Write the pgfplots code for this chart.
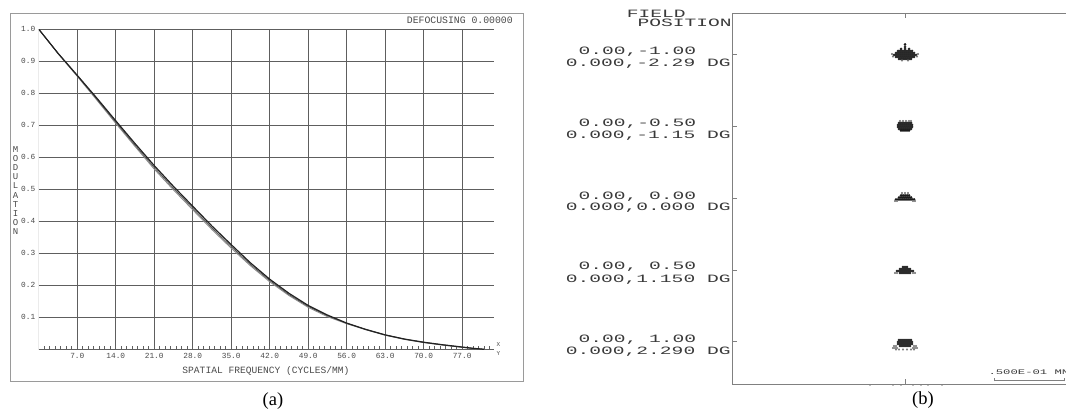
\documentclass[border=0pt]{standalone}
\usepackage{fontspec}
\setmainfont{Liberation Serif}
\setmonofont{Liberation Mono}
\newfontfamily\widefont[FakeStretch=1.75]{Liberation Mono}
\usepackage{pgfplots}
\pgfplotsset{compat=1.18}
\definecolor{txt}{HTML}{4A4A4A}
\definecolor{gridc}{HTML}{5E5E5E}
\definecolor{framec}{HTML}{9A9A9A}
\definecolor{frameb}{HTML}{808080}
\definecolor{curvea}{HTML}{222222}
\definecolor{curveb}{HTML}{8C8C8C}
\definecolor{curvec}{HTML}{555555}
\definecolor{spotd}{HTML}{1A1A1A}
\definecolor{spotg}{HTML}{7A7A7A}
\definecolor{btxt}{HTML}{3A3A3A}
\begin{document}
\begin{tikzpicture}
\useasboundingbox (0pt,0pt) rectangle (1066pt,411pt);
% ---------- panel (a) frame ----------
\draw[framec, line width=0.9pt] (10pt,29.3pt) rectangle (523.3pt,397.7pt);
\begin{axis}[
  at={(38.8pt,61.7pt)}, anchor=south west, scale only axis,
  width=455.2pt, height=320pt,
  xmin=0, xmax=82.8, ymin=0, ymax=1,
  axis line style={draw=none},
  xtick={7,14,21,28,35,42,49,56,63,70,77},
  xticklabels={7.0,14.0,21.0,28.0,35.0,42.0,49.0,56.0,63.0,70.0,77.0},
  ytick={0.1,0.2,0.3,0.4,0.5,0.6,0.7,0.8,0.9,1.0},
  yticklabels={0.1,0.2,0.3,0.4,0.5,0.6,0.7,0.8,0.9,1.0},
  minor xtick={1,2,3,4,5,6,8,9,10,11,12,13,15,16,17,18,19,20,22,23,24,25,26,27,29,30,31,32,33,34,36,37,38,39,40,41,43,44,45,46,47,48,50,51,52,53,54,55,57,58,59,60,61,62,64,65,66,67,68,69,71,72,73,74,75,76,78,79,80,81,82},
  grid=major, major grid style={draw=gridc, line width=0.85pt},
  tick align=inside, xtick pos=lower, ytick pos=left,
  major tick length=3pt, minor tick length=3pt,
  xtick style={draw=gridc, line width=0.6pt},
  minor tick style={draw=gridc, line width=0.6pt},
  ytick style={draw=none},
  xticklabel style={font=\fontsize{7.8}{8}\ttfamily, text=txt, yshift=-0.5pt},
  yticklabel style={font=\fontsize{7.8}{8}\ttfamily, text=txt},
]
\draw[gridc, line width=0.9pt] (axis cs:0,1) -- (axis cs:0,0) -- (axis cs:82.8,0);
\addplot[curveb, line width=0.9pt] coordinates {
(0,1.0) (3.5,0.924) (7,0.853) (10.5,0.780) (14,0.706) (17.5,0.634) (21,0.563) (24.5,0.498) (28,0.436) (31.5,0.374) (35,0.316) (38.5,0.261) (42,0.211) (45.5,0.168) (49,0.131) (52.5,0.102) (56,0.080) (59.5,0.061) (63,0.044) (66.5,0.031) (70,0.021) (73.5,0.013) (77,0.006) (79,0.002) (81,0.0)};
\addplot[curvec, line width=0.8pt] coordinates {
(0,1.0) (3.5,0.925) (7,0.855) (10.5,0.783) (14,0.710) (17.5,0.638) (21,0.568) (24.5,0.503) (28,0.441) (31.5,0.379) (35,0.321) (38.5,0.265) (42,0.215) (45.5,0.171) (49,0.134) (52.5,0.105) (56,0.081) (59.5,0.062) (63,0.045) (66.5,0.032) (70,0.022) (73.5,0.014) (77,0.007) (79,0.003) (81,0.0)};
\addplot[curvea, line width=1.2pt] coordinates {
(0,1.0) (3.5,0.925) (7,0.856) (10.5,0.786) (14,0.714) (17.5,0.643) (21,0.574) (24.5,0.509) (28,0.447) (31.5,0.385) (35,0.327) (38.5,0.270) (42,0.219) (45.5,0.175) (49,0.137) (52.5,0.107) (56,0.082) (59.5,0.062) (63,0.045) (66.5,0.032) (70,0.022) (73.5,0.014) (77,0.007) (79,0.003) (81,0.0)};
\end{axis}
\node[font=\fontsize{9.6}{10}\ttfamily, text=txt] at (266pt,40.3pt) {SPATIAL FREQUENCY (CYCLES/MM)};
\node[font=\fontsize{9.8}{10}\ttfamily, text=txt, anchor=west, inner sep=0pt] at (406.7pt,391pt) {DEFOCUSING 0.00000};
\node[font=\fontsize{9}{9.1}\ttfamily, text=txt, align=center, inner sep=0pt] at (15.7pt,220.5pt) {M\\O\\D\\U\\L\\A\\T\\I\\O\\N};
\node[font=\fontsize{6}{6}\ttfamily, text=txt, inner sep=0pt] at (498.3pt,66pt) {X};
\node[font=\fontsize{6}{6}\ttfamily, text=txt, inner sep=0pt] at (498.3pt,57.7pt) {Y};
\node[font=\fontsize{18.5}{18.5}\selectfont, inner sep=0pt] at (273pt,10pt) {(a)};
% ---------- panel (b) ----------
\begin{axis}[
  at={(732.3pt,27pt)}, anchor=south west, scale only axis,
  width=347.7pt, height=370.7pt,
  xmin=732.3, xmax=1080, ymin=27, ymax=397.7,
  axis line style={draw=frameb, line width=0.9pt},
  xtick={905}, xticklabels={},
  ytick={357,285,212.7,141,69.3}, yticklabels={},
  tick align=inside, major tick length=5pt,
  tick style={draw=frameb, line width=0.6pt},
  clip=false,
]
% spot 1
\addplot[only marks, mark=*, mark size=1.2pt, spotd, mark options={draw=none, fill=spotd}] coordinates {
(898,360) (900,360) (902,360) (904,360) (906,360) (908,360) (910,360) (912,360)
(896,358) (898,358) (900,358) (902,358) (904,358) (906,358) (908,358) (910,358) (912,358) (914,358)
(894,356) (896,356) (898,356) (900,356) (902,356) (904,356) (906,356) (908,356) (910,356) (912,356) (914,356) (916,356)
(896,354) (898,354) (900,354) (902,354) (904,354) (906,354) (908,354) (910,354) (912,354) (914,354)
(899,352) (901,352) (903,352) (905,352) (907,352) (909,352) (911,352)
(901,362) (905,362) (909,362) (905,364) (905,366.5)};
\addplot[only marks, mark=*, mark size=0.8pt, spotg, mark options={draw=none, fill=spotg}] coordinates {
(892,357) (918,357) (893,354.5) (917,354.5) (902,350.5) (908,350.5)};
% spot 2
\addplot[only marks, mark=*, mark size=1.2pt, spotd, mark options={draw=none, fill=spotd}] coordinates {
(899,288) (901,288) (903,288) (905,288) (907,288) (909,288) (911,288)
(898,286) (900,286) (902,286) (904,286) (906,286) (908,286) (910,286) (912,286)
(898,284) (900,284) (902,284) (904,284) (906,284) (908,284) (910,284) (912,284)
(899,282) (901,282) (903,282) (905,282) (907,282) (909,282) (911,282)
(901,280.5) (903,280.5) (905,280.5) (907,280.5) (909,280.5)};
\addplot[only marks, mark=*, mark size=0.8pt, spotg, mark options={draw=none, fill=spotg}] coordinates {
(900,290) (903,290) (906,290) (909,290) (911,290)};
% spot 3
\addplot[only marks, mark=*, mark size=1.2pt, spotd, mark options={draw=none, fill=spotd}] coordinates {
(901,215.5) (903,215.5) (905,215.5) (907,215.5) (909,215.5)
(899,213.5) (901,213.5) (903,213.5) (905,213.5) (907,213.5) (909,213.5) (911,213.5)
(896,211.5) (898,211.5) (900,211.5) (902,211.5) (904,211.5) (906,211.5) (908,211.5) (910,211.5) (912,211.5) (914,211.5)};
\addplot[only marks, mark=*, mark size=0.8pt, spotg, mark options={draw=none, fill=spotg}] coordinates {
(902,218) (905,218) (908,218) (895,210) (897,210) (913,210) (915,210)};
% spot 4
\addplot[only marks, mark=*, mark size=1.2pt, spotd, mark options={draw=none, fill=spotd}] coordinates {
(903,144) (905,144) (907,144)
(900,142) (902,142) (904,142) (906,142) (908,142) (910,142)
(897,140) (899,140) (901,140) (903,140) (905,140) (907,140) (909,140) (911,140) (913,140)
(900,138) (902,138) (904,138) (906,138) (908,138) (910,138)};
\addplot[only marks, mark=*, mark size=0.9pt, spotg, mark options={draw=none, fill=spotg}] coordinates {
(895,138) (897,138) (913,138) (915,138)};
% spot 5
\addplot[only marks, mark=*, mark size=1.2pt, spotd, mark options={draw=none, fill=spotd}] coordinates {
(899,71) (901,71) (903,71) (905,71) (907,71) (909,71) (911,71)
(898,69) (900,69) (902,69) (904,69) (906,69) (908,69) (910,69) (912,69)
(898,67) (900,67) (902,67) (904,67) (906,67) (908,67) (910,67) (912,67)
(900,65) (902,65) (904,65) (906,65) (908,65) (910,65)};
\addplot[only marks, mark=*, mark size=0.9pt, spotg, mark options={draw=none, fill=spotg}] coordinates {
(894,65) (896,65) (914,65) (916,65)
(893,63) (895,63) (897,63) (913,63) (915,63) (917,63)
(896,61.5) (899,61.5) (903,61.5) (907,61.5) (911,61.5) (914,61.5)};
\end{axis}
% panel (b) labels
\begin{scope}[every node/.style={font=\fontsize{11.2}{11.2}\widefont, text=btxt, inner sep=0pt, anchor=base west}]
\node at (626.7pt,393.4pt) {FIELD};
\node at (637.3pt,384.4pt) {POSITION};
\node at (578.3pt,356.0pt) {0.00,-1.00};
\node at (565.7pt,344.4pt) {0.000,-2.29 DG};
\node at (578.3pt,284.0pt) {0.00,-0.50};
\node at (565.7pt,272.4pt) {0.000,-1.15 DG};
\node at (578.3pt,211.7pt) {0.00, 0.00};
\node at (565.7pt,200.1pt) {0.000,0.000 DG};
\node at (578.3pt,141.0pt) {0.00, 0.50};
\node at (565.7pt,128.4pt) {0.000,1.150 DG};
\node at (578.3pt,68.4pt) {0.00, 1.00};
\node at (565.7pt,56.7pt) {0.000,2.290 DG};
\end{scope}
\node[font=\fontsize{7}{7}\widefont, text=btxt, inner sep=0pt, anchor=west] at (988.3pt,39.3pt) {.500E-01 MM};
\draw[frameb, line width=0.6pt] (994.3pt,31pt) -- (1064.3pt,31pt);
\draw[frameb, line width=0.6pt] (994.3pt,29.5pt) -- (994.3pt,32.5pt);
\draw[frameb, line width=0.6pt] (1064.3pt,29.5pt) -- (1064.3pt,32.5pt);
\foreach \xx in {870,893,901,913,921,928,942} \draw[gray!50, line width=0.5pt] (\xx pt-1pt,25.3pt) -- (\xx pt+1pt,25.3pt);
\node[font=\fontsize{18.5}{18.5}\selectfont, inner sep=0pt] at (923pt,10.5pt) {(b)};
\end{tikzpicture}
\end{document}
